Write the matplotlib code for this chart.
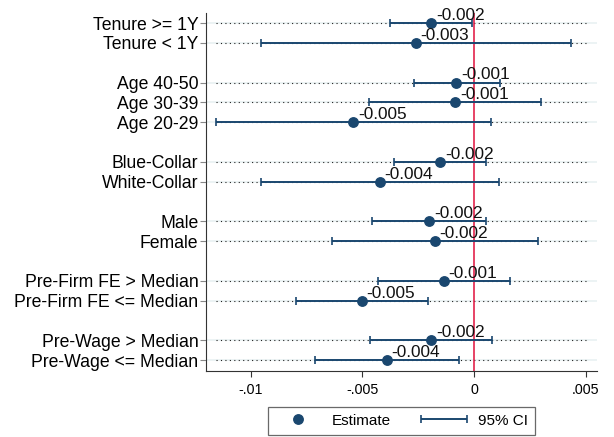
import numpy as np
import matplotlib
matplotlib.use("Agg")
import matplotlib.pyplot as plt
from matplotlib.container import ErrorbarContainer
from matplotlib.legend_handler import HandlerErrorbar

plt.rcParams['font.family'] = ['Liberation Sans', 'DejaVu Sans']

labels = ["Tenure >= 1Y", "Tenure < 1Y",
          "Age 40-50", "Age 30-39", "Age 20-29",
          "Blue-Collar", "White-Collar",
          "Male", "Female",
          "Pre-Firm FE > Median", "Pre-Firm FE <= Median",
          "Pre-Wage > Median", "Pre-Wage <= Median"]
group_sizes = [2, 3, 2, 2, 2, 2]
estimate = [-0.00191, -0.00261,
            -0.00079, -0.00085, -0.00541,
            -0.00152, -0.00422,
            -0.00201, -0.00176,
            -0.00136, -0.00502,
            -0.00192, -0.00390]
ci_low = [-0.00378, -0.00955,
          -0.00270, -0.00470, -0.01155,
          -0.00356, -0.00952,
          -0.00455, -0.00636,
          -0.00429, -0.00799,
          -0.00466, -0.00714]
ci_high = [-0.00010, 0.00436,
           0.00115, 0.00301, 0.00075,
           0.00052, 0.00110,
           0.00052, 0.00286,
           0.00163, -0.00204,
           0.00082, -0.00065]
xticks = [-0.01, -0.005, 0, 0.005]
xticklabels = ["-.01", "-.005", "0", ".005"]

navy = "#1a476f"

# one blank row between groups
ypos = []
row = 0
for n in group_sizes:
    ypos.extend(range(row, row + n))
    row += n + 1
ypos = np.array(ypos)
est = np.array(estimate)
lo = np.array(ci_low)
hi = np.array(ci_high)

fig = plt.figure(figsize=(6.14, 4.37), dpi=100)
ax = fig.add_axes([0.3355, 0.151, 0.6365, 0.819])

for y in ypos:
    ax.axhline(y, color="#eaf2f3", lw=1.3, zorder=0)
ax.hlines(ypos, lo.min(), xticks[-1], colors="#222222", lw=0.8,
          linestyles=(0, (1, 3)), zorder=1)

ax.axvline(0, color="#e0103c", lw=1.1, zorder=2)

ax.errorbar(est, ypos, xerr=[est - lo, hi - est], fmt="none", ecolor=navy,
            elinewidth=1.4, capsize=2.6, capthick=1.2, zorder=3, label="95% CI")
ax.plot(est, ypos, "o", color=navy, ms=6.8, zorder=4, label="Estimate", ls="none")

for x, y in zip(est, ypos):
    ax.annotate(f"{x:.3f}", (x, y), xytext=(3.5, 2.2), textcoords="offset points",
                ha="left", va="baseline", fontsize=12.4, color="#111111", zorder=5)

ax.set_ylim(ypos.max() + 0.54, -0.5)
ax.set_xlim(-0.012, 0.0055)
ax.set_yticks(ypos)
ax.set_yticklabels(labels, fontsize=12.7)
ax.set_xticks(xticks)
ax.set_xticklabels(xticklabels, fontsize=10.3)

ax.spines["top"].set_visible(False)
ax.spines["right"].set_visible(False)
ax.spines["left"].set_color("#333333")
ax.spines["bottom"].set_color("#333333")
ax.tick_params(axis="y", length=4.5, color="#888888", pad=1)
ax.tick_params(axis="x", length=4.5, color="#333333", pad=4)

handles, labs = ax.get_legend_handles_labels()
order = [labs.index("Estimate"), labs.index("95% CI")]
leg = ax.legend([handles[i] for i in order], [labs[i] for i in order],
                loc="upper center", bbox_to_anchor=(0.5, -0.1), ncol=2,
                frameon=True, fancybox=False, edgecolor="#444444",
                fontsize=11, handlelength=3.0, columnspacing=2.0,
                borderpad=0.45, handletextpad=0.7, borderaxespad=0,
                handler_map={ErrorbarContainer: HandlerErrorbar(xerr_size=1.5)})
leg.get_frame().set_linewidth(0.9)

fig.savefig("out.png", dpi=100)
